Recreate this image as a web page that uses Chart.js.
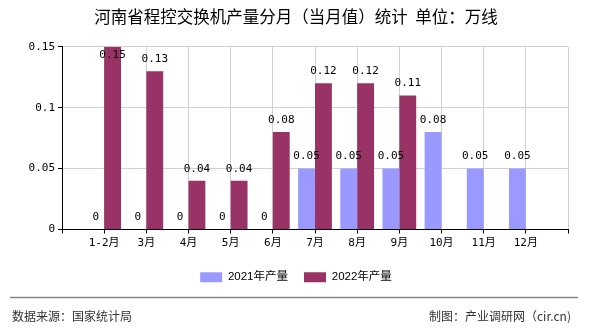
<!DOCTYPE html>
<html>
<head>
<meta charset="utf-8">
<script src="https://cdn.jsdelivr.net/npm/chart.js@4.4.0/dist/chart.umd.min.js"></script>
<style>
  html, body { margin: 0; padding: 0; background: #fff; }
  canvas { display: block; }
</style>
</head>
<body>
<canvas id="grafica" width="590" height="330"></canvas>
<script>
// Datos
const meses = ['1-2月', '3月', '4月', '5月', '6月', '7月', '8月', '9月', '10月', '11月', '12月'];
const valores2021 = [0, 0, 0, 0, 0, 0.05, 0.05, 0.05, 0.08, 0.05, 0.05];
const valores2022 = [0.15, 0.13, 0.04, 0.04, 0.08, 0.12, 0.12, 0.11, null, null, null];
const ticksY = [0, 0.05, 0.1, 0.15];

const titulo = '河南省程控交换机产量分月（当月值）统计  单位：万线';
const fuente = '数据来源：国家统计局';
const autor = '制图：产业调研网（cir.cn)';

// empty slots at both ends so the labels sit on the grid lines
const etiquetas = [''].concat(meses, ['']);
const serie2021 = [null].concat(valores2021, [null]);
const serie2022 = [null].concat(valores2022, [null]);

const fuenteNum = "11px 'DejaVu Sans Mono', 'Noto Sans CJK SC'";

// values above the bars
const etiquetasValor = {
    id: 'etiquetasValor',
    afterDatasetsDraw(chart) {
        const ctx = chart.ctx;
        const area = chart.chartArea;
        ctx.save();
        ctx.font = fuenteNum;
        ctx.fillStyle = '#000';
        ctx.textAlign = 'center';
        ctx.textBaseline = 'middle';
        chart.data.datasets.forEach((ds, i) => {
            const meta = chart.getDatasetMeta(i);
            meta.data.forEach((bar, j) => {
                const v = ds.data[j];
                if (v === null || v === undefined) return;
                const y = Math.max(bar.y - 12, area.top + 8);
                ctx.fillText(String(v), bar.x, y);
            });
        });
        ctx.restore();
    }
};

// footer with separator line and sources
const pie = {
    id: 'pie',
    afterDraw(chart) {
        const ctx = chart.ctx;
        ctx.save();
        ctx.strokeStyle = '#888';
        ctx.lineWidth = 1.5;
        ctx.beginPath();
        ctx.moveTo(10, 297.5);
        ctx.lineTo(578, 297.5);
        ctx.stroke();
        ctx.font = "12px 'Noto Sans CJK SC'";
        ctx.fillStyle = '#333';
        ctx.textBaseline = 'middle';
        ctx.textAlign = 'left';
        ctx.fillText(fuente, 12, 316);
        ctx.textAlign = 'right';
        ctx.fillText(autor, 571, 316);
        ctx.restore();
    }
};

const ctx = document.getElementById('grafica').getContext('2d');
const chart = new Chart(ctx, {
    type: 'bar',
    data: {
        labels: etiquetas,
        datasets: [{
            label: '2021年产量',
            data: serie2021,
            backgroundColor: '#9999ff',
            borderWidth: 0
        }, {
            label: '2022年产量',
            data: serie2022,
            backgroundColor: '#993366',
            borderWidth: 0
        }]
    },
    options: {
        responsive: false,
        animation: false,
        devicePixelRatio: 1,
        categoryPercentage: 0.8,
        barPercentage: 1.0,
        layout: {
            padding: { left: 24, right: 22, top: 0, bottom: 37 }
        },
        plugins: {
            title: {
                display: true,
                text: titulo,
                color: '#000',
                font: { family: "'Noto Sans CJK SC'", size: 16.5, weight: 'normal' },
                padding: { top: 7, bottom: 20 }
            },
            legend: {
                position: 'bottom',
                labels: {
                    boxWidth: 22,
                    boxHeight: 10,
                    padding: 16,
                    color: '#000',
                    font: { family: "'Liberation Sans', 'Noto Sans CJK SC'", size: 11.5 }
                }
            },
            tooltip: { enabled: false }
        },
        scales: {
            x: {
                offset: false,
                grid: {
                    offset: false,
                    color: '#d0d0d0',
                    tickColor: '#000',
                    tickLength: 4
                },
                border: { color: '#000', width: 1 },
                ticks: {
                    color: '#000',
                    font: { family: "'DejaVu Sans Mono', 'Noto Sans CJK SC'", size: 11 },
                    padding: 3,
                    maxRotation: 0,
                    autoSkip: false
                },
                afterFit(scale) { scale.height = 26; }
            },
            y: {
                min: 0,
                max: 0.15,
                grid: {
                    color: '#d0d0d0',
                    tickColor: '#000',
                    tickLength: 4
                },
                border: { color: '#000', width: 1 },
                afterBuildTicks(scale) {
                    scale.ticks = ticksY.map(v => ({ value: v }));
                },
                ticks: {
                    color: '#000',
                    font: { family: "'DejaVu Sans Mono', 'Noto Sans CJK SC'", size: 11 },
                    padding: 3,
                    callback: v => String(v)
                },
                afterFit(scale) { scale.width = 38; }
            }
        }
    },
    plugins: [etiquetasValor, pie]
});
</script>
</body>
</html>
